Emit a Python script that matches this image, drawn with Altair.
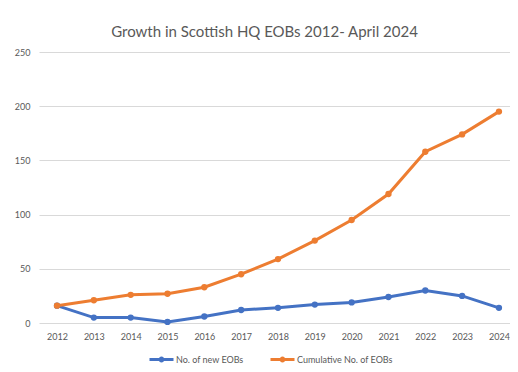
import altair as alt
import pandas as pd

years = list(range(2012, 2025))
new_eobs = [16, 5, 5, 1, 6, 12, 14, 17, 19, 24, 30, 25, 14]
cumulative_eobs = [16, 21, 26, 27, 33, 45, 59, 76, 95, 119, 158, 174, 195]
series_names = ["No. of new EOBs", "Cumulative No. of EOBs"]
series_colors = ["#4472C4", "#ED7D31"]
y_ticks = [0, 50, 100, 150, 200, 250]

rows = []
for y, v in zip(years, new_eobs):
    rows.append({"year": y, "value": v, "series": series_names[0]})
for y, v in zip(years, cumulative_eobs):
    rows.append({"year": y, "value": v, "series": series_names[1]})
df = pd.DataFrame(rows)

grey = "#595959"
font = "Lato"
legend_path = "M-1,0L1,0M0.125,0A0.125,0.125 0 1,1 -0.125,0A0.125,0.125 0 1,1 0.125,0"

chart = (
    alt.Chart(df)
    .mark_line(strokeWidth=3, point=alt.OverlayMarkDef(size=40, filled=True, opacity=1))
    .encode(
        x=alt.X(
            "year:Q",
            scale=alt.Scale(domain=[2011.511, 2024.3], nice=False, zero=False),
            axis=alt.Axis(
                values=years, format="d", title=None, grid=False, ticks=False,
                domain=False, labelColor=grey, labelFontSize=9, labelFont=font,
                labelPadding=9, labelFlush=False,
            ),
        ),
        y=alt.Y(
            "value:Q",
            scale=alt.Scale(domain=[0, 250], nice=False),
            axis=alt.Axis(
                values=y_ticks, title=None, ticks=False, domain=False,
                gridColor="#d9d9d9", gridWidth=1, labelColor=grey,
                labelFontSize=9, labelFont=font, labelPadding=9,
            ),
        ),
        color=alt.Color(
            "series:N",
            scale=alt.Scale(domain=series_names, range=series_colors),
            legend=alt.Legend(
                title=None, orient="none", direction="horizontal",
                legendX=109, legendY=294, symbolType=legend_path,
                symbolSize=576, symbolStrokeWidth=3, labelFontSize=9,
                labelFont=font, labelColor=grey, columnPadding=20,
                labelOffset=1,
            ),
        ),
    )
    .properties(
        width=471,
        height=271,
        title=alt.TitleParams(
            "Growth in Scottish HQ EOBs 2012- April 2024",
            fontSize=15, font=font, color=grey, fontWeight="normal",
            anchor="middle", dx=-10, offset=8,
        ),
        autosize=alt.AutoSizeParams(type="none"),
        padding={"left": 31, "top": 44, "right": 0, "bottom": 41},
    )
    .configure_view(stroke=None)
)

chart.save("out.html", embed_options={"renderer": "svg", "actions": False})
